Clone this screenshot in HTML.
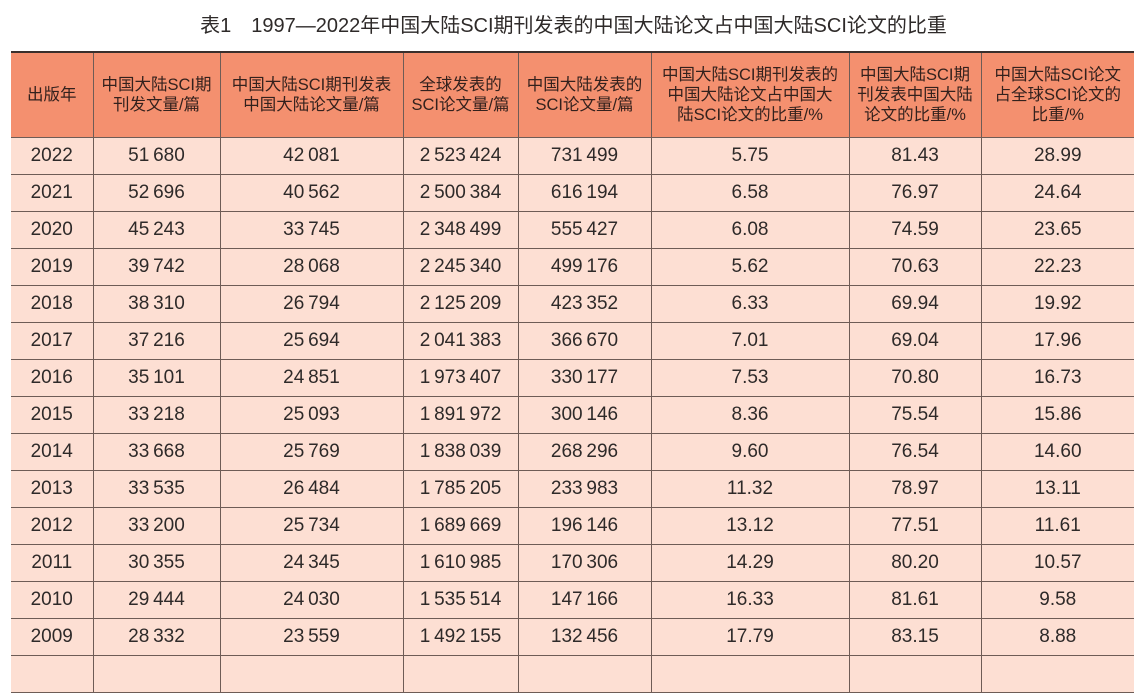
<!DOCTYPE html>
<html><head><meta charset="utf-8"><style>
body{margin:0;width:1147px;height:663px;overflow:hidden;background:#fff;font-family:"Liberation Sans","Noto Sans CJK SC",sans-serif;color:#2e2a29}
#title{position:absolute;left:0;top:12px;width:1147px;text-align:center;font-size:20px;line-height:28px}
table{position:absolute;left:11px;top:51px;border-collapse:collapse;table-layout:fixed;border-top:2px solid #3a2f2c}
td,th{border:1.3px solid #6e5c56;text-align:center;padding:0;overflow:hidden;white-space:nowrap}
th{background:#f4906f;font-weight:normal;font-size:16.5px;line-height:20px;height:84px;color:#33211d}
td{background:#fddfd3;font-size:19px;height:36px}
table tr td:first-child,table tr th:first-child{border-left:none}
table tr td:last-child,table tr th:last-child{border-right:none}
</style></head><body>
<div id="title">表1　1997—2022年中国大陆SCI期刊发表的中国大陆论文占中国大陆SCI论文的比重</div>
<table>
<colgroup><col style="width:82px"><col style="width:127px"><col style="width:183px"><col style="width:115px"><col style="width:133px"><col style="width:198px"><col style="width:132px"><col style="width:153px"></colgroup>
<tr>
<th>出版年</th>
<th>中国大陆SCI期<br>刊发文量/篇</th>
<th>中国大陆SCI期刊发表<br>中国大陆论文量/篇</th>
<th>全球发表的<br>SCI论文量/篇</th>
<th>中国大陆发表的<br>SCI论文量/篇</th>
<th>中国大陆SCI期刊发表的<br>中国大陆论文占中国大<br>陆SCI论文的比重/%</th>
<th>中国大陆SCI期<br>刊发表中国大陆<br>论文的比重/%</th>
<th>中国大陆SCI论文<br>占全球SCI论文的<br>比重/%</th>
</tr>
<tbody id="tb"></tbody>
</table>
<script>
const years=["2022","2021","2020","2019","2018","2017","2016","2015","2014","2013","2012","2011","2010","2009",""];
const journalCounts=["51 680","52 696","45 243","39 742","38 310","37 216","35 101","33 218","33 668","33 535","33 200","30 355","29 444","28 332",""];
const domesticCounts=["42 081","40 562","33 745","28 068","26 794","25 694","24 851","25 093","25 769","26 484","25 734","24 345","24 030","23 559",""];
const globalCounts=["2 523 424","2 500 384","2 348 499","2 245 340","2 125 209","2 041 383","1 973 407","1 891 972","1 838 039","1 785 205","1 689 669","1 610 985","1 535 514","1 492 155",""];
const chinaCounts=["731 499","616 194","555 427","499 176","423 352","366 670","330 177","300 146","268 296","233 983","196 146","170 306","147 166","132 456",""];
const shareChina=["5.75","6.58","6.08","5.62","6.33","7.01","7.53","8.36","9.60","11.32","13.12","14.29","16.33","17.79",""];
const shareJournal=["81.43","76.97","74.59","70.63","69.94","69.04","70.80","75.54","76.54","78.97","77.51","80.20","81.61","83.15",""];
const shareGlobal=["28.99","24.64","23.65","22.23","19.92","17.96","16.73","15.86","14.60","13.11","11.61","10.57","9.58","8.88",""];
const cols=[years,journalCounts,domesticCounts,globalCounts,chinaCounts,shareChina,shareJournal,shareGlobal];
const colNames=["year","journal-count","domestic-count","global-count","china-count","share-china","share-journal","share-global"];
const tb=document.getElementById('tb');
for(let i=0;i<years.length;i++){
  const tr=document.createElement('tr');
  
  
  for(let c=0;c<cols.length;c++){
    const td=document.createElement('td');
    
    
    td.textContent=cols[c][i].replace(/ /g,'\u2009');
    tr.appendChild(td);
  }
  tb.appendChild(tr);
}
</script>
</body></html>
